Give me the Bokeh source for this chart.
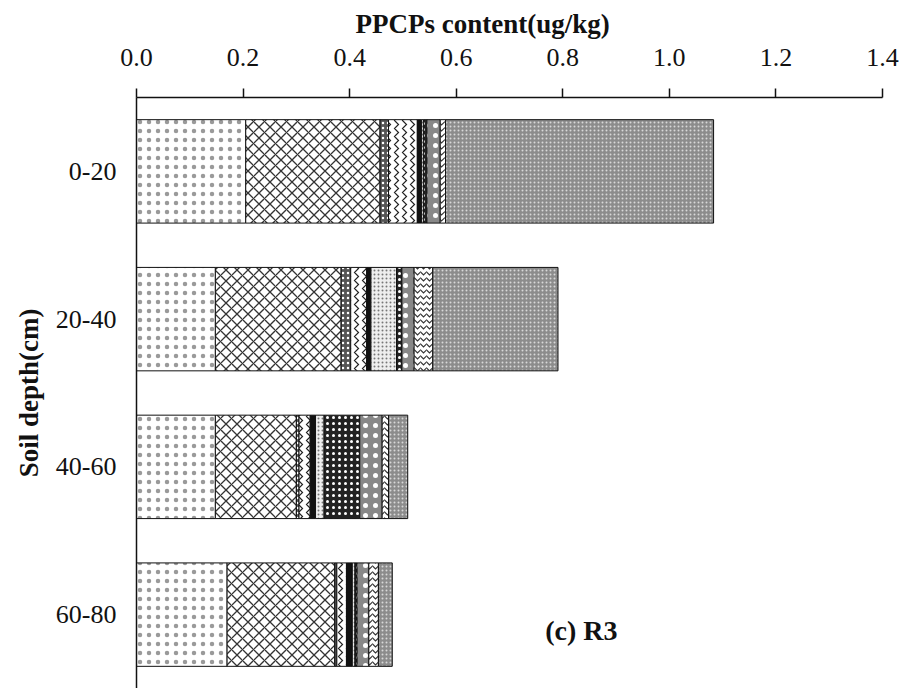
from bokeh.plotting import figure
from bokeh.models import ColumnDataSource, FactorRange, Range1d, FixedTicker, NumeralTickFormatter, Label
from bokeh.embed import file_html
from bokeh.resources import INLINE

# ---- data ----
depths = ["0-20", "20-40", "40-60", "60-80"]
s1 = [0.205, 0.148, 0.148, 0.170]
s2 = [0.252, 0.236, 0.152, 0.202]
s3 = [0.016, 0.018, 0.005, 0.004]
s4 = [0.054, 0.030, 0.021, 0.018]
s5 = [0.008, 0.008, 0.010, 0.011]
s6 = [0.004, 0.048, 0.016, 0.005]
s7 = [0.006, 0.010, 0.067, 0.004]
s8 = [0.025, 0.023, 0.042, 0.022]
s9 = [0.010, 0.035, 0.012, 0.018]
s10 = [0.503, 0.235, 0.036, 0.026]
x_ticks = [0.0, 0.2, 0.4, 0.6, 0.8, 1.0, 1.2, 1.4]

series = ["s1", "s2", "s3", "s4", "s5", "s6", "s7", "s8", "s9", "s10"]
source = ColumnDataSource(dict(depth=depths, s1=s1, s2=s2, s3=s3, s4=s4, s5=s5,
                               s6=s6, s7=s7, s8=s8, s9=s9, s10=s10))

fills = ["#ffffff", "#ffffff", "#555555", "#ffffff", "#111111",
         "#eeeeee", "#222222", "#888888", "#ffffff", "#8c8c8c"]
hatches = [".", "x", ".", ">", " ", ".", ".", ".", "v", "."]
hatch_colors = ["#9a9a9a", "#333333", "#ffffff", "#222222", "#111111",
                "#777777", "#ffffff", "#ffffff", "#333333", "#d8d8d8"]
hatch_scales = [9, 11, 5, 8, 6, 4, 6, 10, 6, 4]
hatch_weights = [1.8, 1.3, 1.5, 1.2, 1, 1, 1.5, 2, 1.2, 1.5]

FONT = "Liberation Serif"
W, H = 905, 688

p = figure(width=W, height=H, output_backend="svg", toolbar_location=None,
           x_axis_location="above",
           y_range=FactorRange(factors=list(reversed(depths))),
           x_range=Range1d(0, 1.4),
           min_border_left=136, min_border_top=95, min_border_right=23, min_border_bottom=0)

# x-axis title, drawn as the figure title above the top axis
p.title.text = "PPCPs content(ug/kg)"
p.title.text_font = FONT
p.title.text_font_style = "bold"
p.title.text_font_size = "27px"
p.title.text_color = "#111111"
p.title.align = "left"
p.title.offset = 219
p.title.standoff = 13

p.hbar_stack(series, y="depth", height=0.7, source=source,
             fill_color=fills, hatch_pattern=hatches, hatch_color=hatch_colors,
             hatch_scale=hatch_scales, hatch_weight=hatch_weights,
             line_color="#111111", line_width=1)

p.outline_line_color = None
p.xgrid.grid_line_color = None
p.ygrid.grid_line_color = None

xa = p.xaxis[0]
xa.ticker = FixedTicker(ticks=x_ticks)
xa.formatter = NumeralTickFormatter(format="0.0")
xa.major_label_text_font = FONT
xa.major_label_text_font_size = "26px"
xa.major_label_standoff = 23
xa.major_tick_out = 9
xa.major_tick_in = 0
xa.minor_tick_line_color = None
xa.axis_line_color = "#111111"
xa.axis_line_width = 1.5
xa.major_tick_line_color = "#111111"
xa.major_tick_line_width = 1.5
xa.major_label_text_color = "#111111"

ya = p.yaxis[0]
ya.axis_label = "Soil depth(cm)"
ya.axis_label_text_font = FONT
ya.axis_label_text_font_style = "bold"
ya.axis_label_text_font_size = "27px"
ya.axis_label_standoff = 9
ya.major_label_text_font = FONT
ya.major_label_text_font_size = "26px"
ya.major_label_standoff = 14
ya.major_tick_line_color = None
ya.axis_line_color = "#111111"
ya.axis_line_width = 1.5
ya.major_label_text_color = "#111111"
ya.axis_label_text_color = "#111111"

label = Label(x=0.767, y=0.39, text="(c) R3", text_font=FONT, text_font_style="bold",
              text_font_size="28px", text_baseline="middle", text_align="left",
              text_color="#111111")
p.add_layout(label)

open("out.html", "w").write(file_html(p, INLINE))
